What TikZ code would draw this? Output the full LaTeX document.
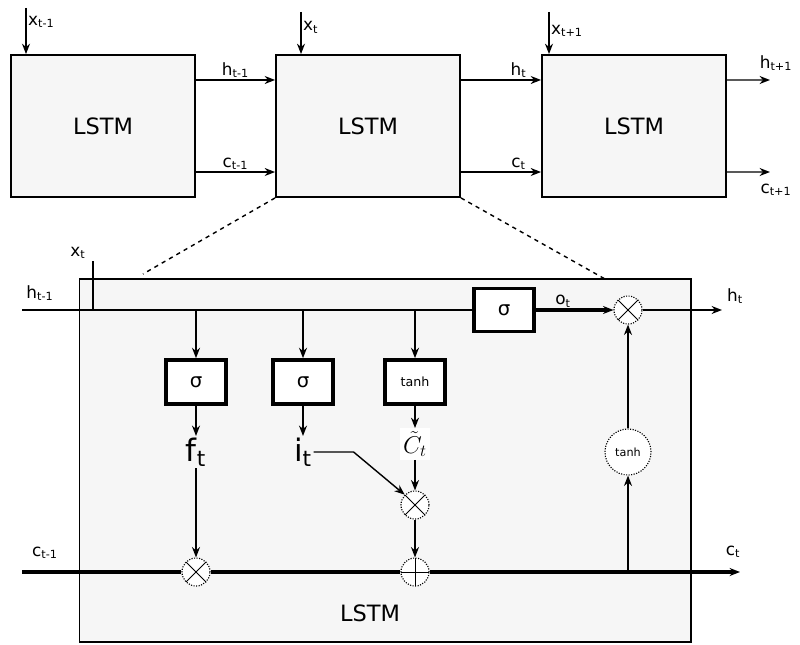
\documentclass[tikz,border=0pt]{standalone}
\usepackage{fontspec}
\setmainfont{DejaVu Sans}
\usetikzlibrary{arrows.meta,positioning}

\begin{document}
\begin{tikzpicture}[x=0.025cm,y=-0.025cm,>={Stealth[length=2.6mm,width=2mm]},
   cell/.style={draw,fill=gray!7,line width=1.3pt,minimum width=4.6cm,minimum height=3.55cm,font=\fontsize{16}{18}\selectfont},
   gate/.style={draw,fill=white,line width=2.6pt,minimum width=1.5cm,minimum height=1.1cm,font=\fontsize{14}{16}\selectfont},
   op/.style={circle,draw,fill=white,densely dotted,line width=0.8pt,minimum size=0.7cm,inner sep=0pt},
   times/.style={op,path picture={\draw[solid,line width=0.6pt] (path picture bounding box.north west) -- (path picture bounding box.south east) (path picture bounding box.north east) -- (path picture bounding box.south west);}},
   plus/.style={op,path picture={\draw[solid,line width=0.6pt] (path picture bounding box.north) -- (path picture bounding box.south) (path picture bounding box.west) -- (path picture bounding box.east);}},
   lbl/.style={font=\fontsize{12}{14}\selectfont,inner sep=1pt},
   biglbl/.style={font=\fontsize{22}{24}\selectfont,inner sep=1pt},
   wire/.style={line width=1pt},
   cwire/.style={line width=2.5pt}]
  \useasboundingbox (0,0) rectangle (800,644);
  % unrolled chain
  \node[cell] (L1) at (103,126) {LSTM};
  \node[cell] (L2) at (368,126) {LSTM};
  \node[cell] (L3) at (634,126) {LSTM};
  \draw[wire,->] ([yshift=1.15cm]L1.east) -- ([yshift=1.15cm]L2.west) node[lbl,above,pos=0.5] (lh1) {h\textsubscript{t-1}};
  \draw[wire,->] ([yshift=-1.15cm]L1.east) -- ([yshift=-1.15cm]L2.west) node[lbl,above,pos=0.5] (lc1) {c\textsubscript{t-1}};
  \draw[wire,->] ([yshift=1.15cm]L2.east) -- ([yshift=1.15cm]L3.west) node[lbl,above,pos=0.72] (lh2) {h\textsubscript{t}};
  \draw[wire,->] ([yshift=-1.15cm]L2.east) -- ([yshift=-1.15cm]L3.west) node[lbl,above,pos=0.72] (lc2) {c\textsubscript{t}};
  \coordinate (h3) at (770,80); \coordinate (c3) at (770,172);
  \draw[wire,->] ([yshift=1.15cm]L3.east) -- (h3);
  \draw[wire,->] ([yshift=-1.15cm]L3.east) -- (c3);
  \node[lbl] (lh3) at (776,63) {h\textsubscript{t+1}};
  \node[lbl] (lc3) at (776,190) {c\textsubscript{t+1}};
  \coordinate (x1) at (26,8); \coordinate (x2) at (301,12); \coordinate (x3) at (549,12);
  \draw[wire,->] (x1) -- (x1 |- L1.north) node[lbl,right,pos=0.3] (lx1) {x\textsubscript{t-1}};
  \draw[wire,->] (x2) -- (x2 |- L2.north) node[lbl,right,pos=0.37] (lx2) {x\textsubscript{t}};
  \draw[wire,->] (x3) -- (x3 |- L3.north) node[lbl,right,pos=0.45] (lx3) {x\textsubscript{t+1}};
  % zoom lines
  \coordinate (zl) at (143,274); \coordinate (zr) at (605,279);
  \draw[wire,dashed] (L2.south west) -- (zl);
  \draw[wire,dashed] (L2.south east) -- (zr);
  % cell detail
  \node[cell,minimum width=15.275cm,minimum height=9.075cm] (B) at (385,460.5) {};
  \node[font=\fontsize{16}{18}\selectfont] (BL) at (370,613) {LSTM};
  \coordinate (hin) at (22,310); \coordinate (xin) at (93,261);
  \node[gate,minimum height=1.075cm] (so) at (504,310) {σ};
  \draw[wire] (hin) -- (so.west);
  \draw[wire] (xin) -- (xin |- hin);
  \node[lbl] (lhin) at (40,293) {h\textsubscript{t-1}};
  \node[lbl] (lxin) at (78,253) {x\textsubscript{t}};
  \node[gate] (sf) at (196,382) {σ};
  \node[gate] (si) at (303,382) {σ};
  \node[gate,font=\fontsize{9}{10}\selectfont] (tg) at (415,382) {tanh};
  \foreach \g in {sf,si,tg}{\draw[wire,->] (\g |- hin) -- (\g.north);}
  \node[biglbl] (ft) at (196,452) {f\textsubscript{t}};
  \node[biglbl] (it) at (303,452) {i\textsubscript{t}};
  \node[fill=white,font=\fontsize{18}{20}\selectfont,inner sep=2pt] (ct) at (415,444) {$\tilde{C}_t$};
  \node[times] (mf) at (196,572) {};
  \node[times] (mi) at (415,505) {};
  \node[plus] (ad) at (415,572) {};
  \draw[wire,->] (sf.south) -- (ft.north);
  \draw[wire,->] (ft.south) -- (mf.north);
  \draw[wire,->] (si.south) -- (it.north);
  \draw[wire,->] (tg.south) -- (ct.north);
  \draw[wire,->] (ct.south) -- (mi.north);
  \draw[wire,->] (it.east) -- ++(1cm,0) -- (mi.north west);
  \draw[wire,->] (mi.south) -- (ad.north);
  % cell state
  \coordinate (cin) at (22,572); \coordinate (cout) at (740,572); \coordinate (tap) at (628,572);
  \draw[cwire] (cin) -- (mf.west);
  \draw[cwire] (mf.east) -- (ad.west);
  \draw[cwire,->] (ad.east) -- (cout);
  \node[lbl] (lcin) at (45,553) {c\textsubscript{t-1}};
  \node[lbl] (lcout) at (733,552) {c\textsubscript{t}};
  % output
  \node[op,minimum size=1.15cm,font=\fontsize{8}{9}\selectfont] (th) at (628,452) {tanh};
  \node[times] (mo) at (628,310) {};
  \draw[wire,->] (tap) -- (th.south);
  \draw[wire,->] (th.north) -- (mo.south);
  \draw[line width=2.2pt,->] (so.east) -- (mo.west) node[lbl,above,pos=0.35] (lo) {o\textsubscript{t}};
  \coordinate (hout) at (722,310);
  \draw[wire,->] (mo.east) -- (hout);
  \node[lbl] (lhout) at (735,296) {h\textsubscript{t}};
\end{tikzpicture}
\end{document}
